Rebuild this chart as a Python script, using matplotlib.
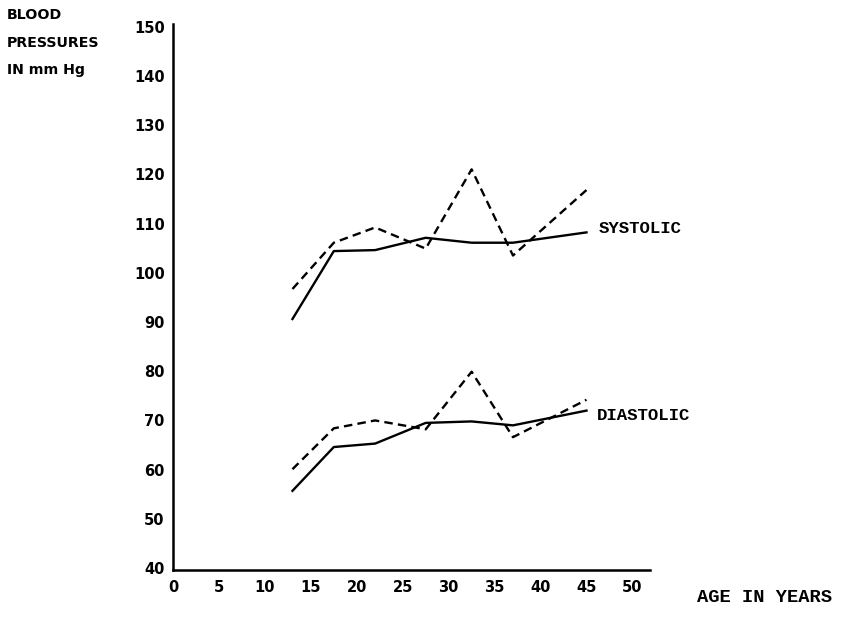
import matplotlib
matplotlib.use("Agg")
import matplotlib.pyplot as plt

# ages (years) and pressures (mm Hg)
age = [13, 17.5, 22, 27.5, 32.5, 37, 45]

systolic_solid = [90.6, 104.4, 104.6, 107.1, 106.1, 106.1, 108.2]
systolic_dashed = [96.7, 106.1, 109.2, 104.9, 121.0, 103.5, 116.8]

diastolic_solid = [55.7, 64.6, 65.3, 69.5, 69.8, 69.0, 72.0]
diastolic_dashed = [60.1, 68.4, 70.0, 68.2, 79.9, 66.6, 74.2]

xticks = [0, 5, 10, 15, 20, 25, 30, 35, 40, 45, 50]
yticks = [40, 50, 60, 70, 80, 90, 100, 110, 120, 130, 140, 150]

fig = plt.figure(figsize=(8.44, 6.19), dpi=100)
ax = fig.add_axes([0.205, 0.079, 0.565, 0.882])

lw = 1.7
dash = (0, (3.6, 2.2))
ax.plot(age, systolic_solid, color='black', lw=lw)
ax.plot(age, systolic_dashed, color='black', lw=lw, linestyle=dash)
ax.plot(age, diastolic_solid, color='black', lw=lw)
ax.plot(age, diastolic_dashed, color='black', lw=lw, linestyle=dash)

ax.set_xlim(0.43, 51.9)
ax.set_ylim(39.6, 150.5)
ax.set_xticks(xticks)
ax.set_yticks(yticks)
ax.tick_params(length=0, labelsize=10.5)
ax.tick_params(axis='x', pad=7)
ax.tick_params(axis='y', pad=6)
for lab in ax.get_xticklabels() + ax.get_yticklabels():
    lab.set_fontweight('bold')

for s in ['top', 'right']:
    ax.spines[s].set_visible(False)
for s in ['left', 'bottom']:
    ax.spines[s].set_linewidth(1.8)

ax.text(46.3, 108.9, 'SYSTOLIC', fontsize=12.5, fontweight='bold',
        family='Liberation Mono', va='center', ha='left')
ax.text(46.1, 71.1, 'DIASTOLIC', fontsize=12.5, fontweight='bold',
        family='Liberation Mono', va='center', ha='left')

fig.text(7/844, 1 - 15/619, 'BLOOD', fontsize=10.2, fontweight='bold',
         va='center', ha='left')
fig.text(7/844, 1 - 43/619, 'PRESSURES', fontsize=10.2, fontweight='bold',
         va='center', ha='left')
fig.text(7/844, 1 - 70/619, 'IN mm Hg', fontsize=10.2, fontweight='bold',
         va='center', ha='left')
fig.text(697/844, 1 - 598/619, 'AGE IN YEARS', fontsize=13.5,
         fontweight='bold', family='Liberation Mono', va='center', ha='left')

fig.savefig('out.png', dpi=100)
